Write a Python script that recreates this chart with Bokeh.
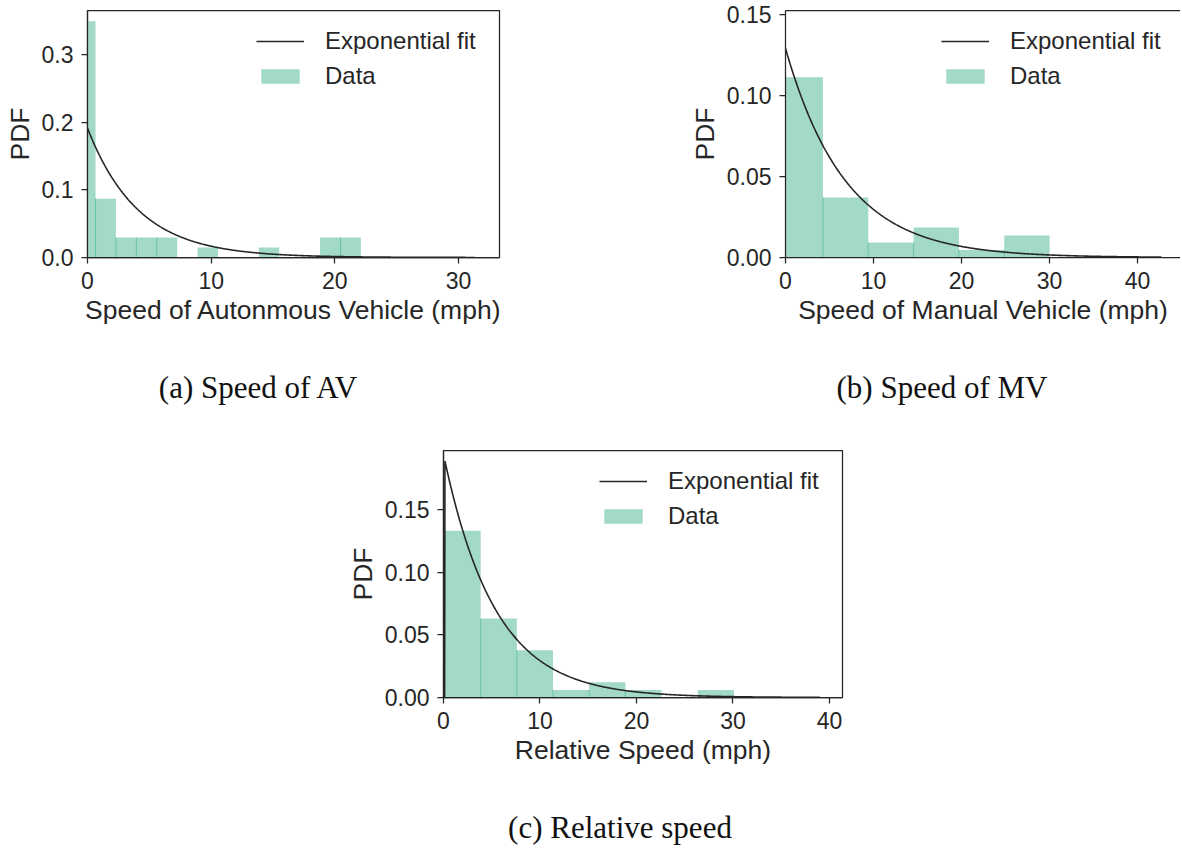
import numpy as np
from bokeh.plotting import figure
from bokeh.models import (Range1d, FixedTicker, NumeralTickFormatter, Legend,
                          LegendItem, LinearAxis, Div, Spacer)
from bokeh.layouts import row, column
from bokeh.embed import file_html
from bokeh.resources import INLINE

# ---------------- data ----------------
# (a) Speed of autonomous vehicle
av_edges = [-1.0, 0.65, 2.3, 3.95, 5.6, 7.25, 8.9, 10.55, 12.2, 13.85,
            15.5, 17.15, 18.8, 20.45, 22.1]
av_density = [0.349, 0.087, 0.0296, 0.0296, 0.0296, 0.0, 0.0148, 0.0, 0.0,
              0.0148, 0.0, 0.0, 0.0296, 0.0296]
av_fit_loc = -1.0
av_fit_scale = 4.1
av_fit_span = [-1.0, 31.35]
av_xticks = [0, 10, 20, 30]
av_yticks = [0.0, 0.1, 0.2, 0.3]

# (b) Speed of manual vehicle
mv_edges = [-0.9, 4.25, 9.4, 14.55, 19.7, 24.85, 30.0]
mv_density = [0.111, 0.037, 0.0092, 0.0185, 0.0046, 0.0136]
mv_fit_loc = -0.9
mv_fit_scale = 6.8
mv_fit_span = [-0.9, 42.7]
mv_xticks = [0, 10, 20, 30, 40]
mv_yticks = [0.0, 0.05, 0.10, 0.15]

# (c) Relative speed
rel_edges = [0.1, 3.85, 7.6, 11.35, 15.1, 18.85, 22.6, 26.35, 30.1]
rel_density = [0.133, 0.063, 0.0377, 0.006, 0.0122, 0.006, 0.0, 0.006]
rel_fit_loc = 0.15
rel_fit_scale = 5.3
rel_fit_span = [-0.5, 39.0]
rel_xticks = [0, 10, 20, 30, 40]
rel_yticks = [0.0, 0.05, 0.10, 0.15]

captions = ["(a) Speed of AV", "(b) Speed of MV", "(c) Relative speed"]

# ---------------- styling ----------------
TEXT = "#262626"
SPINE = "#262626"
BAR = "#a2d9c8"
BAR_EDGE = "#66c2a5"
FONT = "Liberation Sans"
SERIF = "Liberation Serif"


def style_axis(ax):
    ax.axis_line_color = SPINE
    ax.axis_line_width = 1.25
    ax.major_tick_line_color = SPINE
    ax.major_tick_line_width = 1.25
    ax.major_tick_out = 6
    ax.major_tick_in = 0
    ax.minor_tick_out = 0
    ax.minor_tick_in = 0
    ax.major_label_text_font = FONT
    ax.major_label_text_font_size = "23px"
    ax.major_label_text_color = TEXT
    ax.axis_label_text_font = FONT
    ax.axis_label_text_font_size = "26.5px"
    ax.axis_label_text_font_style = "normal"
    ax.axis_label_text_color = TEXT


def make_panel(edges, dens, loc, scale, span, xlabel, xticks, yticks, yfmt,
               xr, yr, width, height, borders, legend_xy, full_box=True):
    p = figure(width=width, height=height, output_backend="svg",
               toolbar_location=None, x_range=Range1d(*xr),
               y_range=Range1d(*yr),
               min_border_left=borders[0], min_border_right=borders[1],
               min_border_top=borders[2], min_border_bottom=borders[3])
    p.grid.visible = False
    p.background_fill_color = "white"
    p.border_fill_color = "white"

    bars = p.quad(left=edges[:-1], right=edges[1:], bottom=0, top=dens,
                  fill_color=BAR, line_color=None)
    xs, ys = [], []
    for i in range(1, len(dens)):
        h = min(dens[i - 1], dens[i])
        if h > 0:
            xs.append(edges[i])
            ys.append(h)
    if xs:
        p.segment(x0=xs, y0=0, x1=xs, y1=ys, line_color=BAR_EDGE,
                  line_width=1)

    x = np.union1d(np.linspace(span[0], span[1], 900), [loc])
    y = np.where(x >= loc, np.exp(-(x - loc) / scale) / scale, 0.0)
    fit = p.line(x, y, line_color="#262626", line_width=1.6)

    p.xaxis.ticker = FixedTicker(ticks=xticks)
    p.yaxis.ticker = FixedTicker(ticks=yticks)
    p.yaxis.formatter = NumeralTickFormatter(format=yfmt)
    p.xaxis.axis_label = xlabel
    p.yaxis.axis_label = "PDF"
    for ax in (p.xaxis[0], p.yaxis[0]):
        style_axis(ax)
    p.xaxis.major_label_standoff = 8
    p.yaxis.major_label_standoff = 8
    p.xaxis.axis_label_standoff = 3
    p.yaxis.axis_label_standoff = 4

    if full_box:
        p.outline_line_color = SPINE
        p.outline_line_width = 1.25
        p.outline_line_alpha = 1.0
    else:
        p.outline_line_color = None
        top = LinearAxis(ticker=FixedTicker(ticks=[]))
        top.axis_line_color = SPINE
        top.axis_line_width = 1.25
        top.major_tick_out = 0
        top.major_tick_in = 0
        top.minor_tick_out = 0
        top.minor_tick_in = 0
        top.major_label_standoff = 0
        top.major_label_text_font_size = "0px"
        p.add_layout(top, "above")

    legend = Legend(items=[LegendItem(label="Exponential fit", renderers=[fit]),
                           LegendItem(label="Data", renderers=[bars])],
                    location=legend_xy)
    legend.label_text_font = FONT
    legend.label_text_font_size = "24px"
    legend.label_text_color = TEXT
    legend.glyph_width = 48
    legend.glyph_height = 18
    legend.label_standoff = 21
    legend.label_height = 27
    legend.spacing = 7
    legend.padding = 0
    legend.margin = 0
    legend.border_line_color = None
    legend.background_fill_alpha = 0.0
    p.add_layout(legend)
    return p


fig_a = make_panel(av_edges, av_density, av_fit_loc, av_fit_scale, av_fit_span,
                   "Speed of Autonmous Vehicle (mph)", av_xticks, av_yticks,
                   "0.0", (0, 33.31), (0, 0.365), 568, 338,
                   (87, 69, 10, 81), (169, 167))
fig_b = make_panel(mv_edges, mv_density, mv_fit_loc, mv_fit_scale, mv_fit_span,
                   "Speed of Manual Vehicle (mph)", mv_xticks, mv_yticks,
                   "0.00", (0, 44.87), (0, 0.1522), 612, 338,
                   (217, 0, 10, 81), (156, 167), full_box=False)
fig_c = make_panel(rel_edges, rel_density, rel_fit_loc, rel_fit_scale,
                   rel_fit_span, "Relative Speed (mph)", rel_xticks, rel_yticks,
                   "0.00", (0, 41.35), (0, 0.1971), 524, 372,
                   (105, 20, 12, 113), (156, 167))


def caption(text, width, height, lh):
    return Div(text=text, width=width, height=height, margin=0,
               styles={"font-family": SERIF, "font-size": "31px",
                       "line-height": f"{lh}px", "text-align": "center",
                       "color": "#111111", "white-space": "nowrap"})


layout = column(
    row(fig_a, fig_b),
    row(caption(captions[0], 516, 100, 99), Spacer(width=192, height=100),
        caption(captions[1], 468, 100, 99)),
    row(Spacer(width=338, height=372), fig_c),
    row(Spacer(width=420, height=36), caption(captions[2], 400, 36, 36)),
)

with open("out.html", "w") as f:
    f.write(file_html(layout, INLINE))
